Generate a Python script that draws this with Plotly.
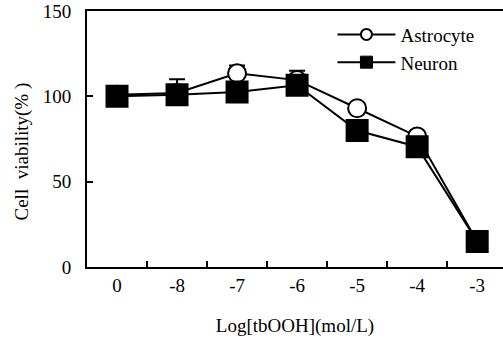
import plotly.graph_objects as go

categories = ["0", "-8", "-7", "-6", "-5", "-4", "-3"]
astrocyte = [101, 102, 113.5, 109.5, 93, 76.5, 15]
astrocyte_err = [3, 8, 4.5, 5.5, 3, 2, 2]
neuron = [100, 101, 102.5, 106.5, 80, 70.5, 15]
y_ticks = [0, 50, 100, 150]

FONT = "Liberation Serif"
F = dict(family=FONT, size=19, color="black")

fig = go.Figure()
fig.add_trace(go.Scatter(
    x=categories, y=astrocyte, name="Astrocyte", mode="lines+markers", showlegend=False,
    line=dict(color="black", width=2),
    marker=dict(symbol="circle", size=18, color="white", line=dict(color="black", width=2)),
    error_y=dict(type="data", array=astrocyte_err, arrayminus=[0] * len(astrocyte_err),
                 symmetric=False, color="black", thickness=2, width=8),
))
fig.add_trace(go.Scatter(
    x=categories, y=neuron, name="Neuron", mode="lines+markers", showlegend=False,
    line=dict(color="black", width=2),
    marker=dict(symbol="square", size=21, color="black", line=dict(color="black", width=2)),
))
# legend entries (no data drawn)
fig.add_trace(go.Scatter(
    x=[None], y=[None], name="Astrocyte", mode="lines+markers",
    line=dict(color="black", width=2),
    marker=dict(symbol="circle", size=11, color="white", line=dict(color="black", width=2)),
))
fig.add_trace(go.Scatter(
    x=[None], y=[None], name="Neuron", mode="lines+markers",
    line=dict(color="black", width=2),
    marker=dict(symbol="square", size=12, color="black", line=dict(color="black", width=1)),
))

fig.update_layout(
    width=503, height=338,
    margin=dict(l=87, r=0, t=11, b=71, autoexpand=False),
    paper_bgcolor="white", plot_bgcolor="white",
    font=F,
    showlegend=True,
    legend=dict(x=0.59, y=0.982, xanchor="left", yanchor="top",
                bgcolor="rgba(0,0,0,0)", itemwidth=58, itemsizing="trace",
                font=F, tracegroupgap=0),
    xaxis=dict(type="category", range=[-0.5, 6.43], tickson="boundaries", automargin=False,
               ticks="inside", ticklen=6, tickwidth=1.5, tickcolor="black",
               showline=True, linecolor="black", linewidth=2, mirror=True,
               showgrid=False, zeroline=False, tickfont=F,
               title=dict(text="Log[tbOOH](mol/L)", font=F, standoff=24)),
    yaxis=dict(range=[0, 150], tickvals=y_ticks, ticks="inside", ticklen=6, automargin=False,
               tickwidth=1.5, tickcolor="black",
               showline=True, linecolor="black", linewidth=2, mirror=False,
               showgrid=False, zeroline=False, tickfont=F,
               ticklabelstandoff=10),
    annotations=[dict(text="Cell\u00a0 viability(%\u00a0)", textangle=-90, xref="paper", yref="paper",
                      x=-0.157, y=0.45, xanchor="center", yanchor="middle",
                      showarrow=False, font=F)],
)

fig.write_html("out.html", config={"displayModeBar": False},
               post_script="document.body.style.margin='0';document.body.style.overflow='hidden';")
